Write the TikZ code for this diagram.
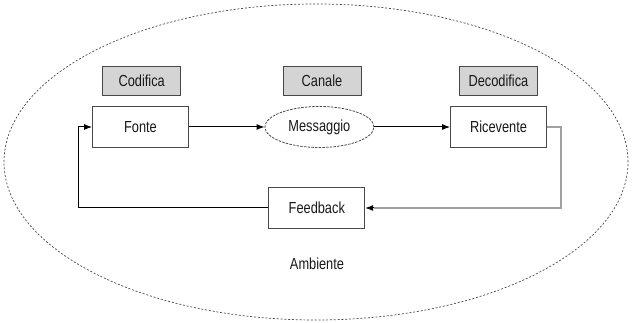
\documentclass[tikz,border=0pt]{standalone}
\usepackage{fontspec}
\setmainfont[FakeStretch=0.8]{Liberation Sans}
\usetikzlibrary{arrows.meta,shapes.geometric}
\definecolor{lblfill}{HTML}{D4D4D4}
\definecolor{edge}{HTML}{484848}
\definecolor{lightline}{HTML}{A0A0A0}
\tikzset{
  lbl/.style={draw=edge, fill=lblfill, line width=0.9pt, minimum width=78pt, minimum height=29.5pt, inner sep=0pt},
  mainbox/.style={draw=edge, fill=white, line width=0.8pt, minimum width=96pt, minimum height=41pt, inner sep=0pt},
  msgell/.style={ellipse, draw=edge, dash pattern=on 2.5pt off 1.2pt, line width=0.8pt, minimum width=109pt, minimum height=41pt, inner sep=0pt},
  envell/.style={ellipse, draw=edge, dash pattern=on 2pt off 1.8pt, line width=0.7pt, minimum width=624pt, minimum height=316pt, inner sep=0pt},
  conn/.style={line width=1pt, -{Latex[length=8pt,width=6pt]}},
}
\begin{document}
\begin{tikzpicture}[x=1pt,y=-1pt, font=\fontsize{16}{19}\selectfont, text=black!90]
\useasboundingbox (0,0) rectangle (632,323);
\node[envell] (env) at (316,162) {};
\node[lbl] (cod) at (141.7,80.8) {Codifica};
\node[lbl] (can) at (322,80.8) {Canale};
\node[lbl] (dec) at (498.4,80.8) {Decodifica};
\node[mainbox] (fonte) at (140.5,127) {Fonte};
\node[msgell] (msg) at (319.4,127) {Messaggio};
\node[mainbox] (ric) at (498.5,127) {Ricevente};
\node[mainbox] (fb) at (316.8,208) {Feedback};
\node (amb) at (317,264) {Ambiente};
\coordinate (rc) at (561,127);
\coordinate (rb) at (561,208);
\coordinate (lb) at (78,208);
\coordinate (lt) at (78,127);
\draw[conn] (fonte) -- (msg);
\draw[conn] (msg) -- (ric);
\draw[draw=lightline, line width=1.1pt] (ric.east) -- (rc) -- (rb) -- ([xshift=9pt]fb.east);
\draw[conn] ([xshift=9pt]fb.east) -- (fb.east);
\draw[conn] (fb.west) -- (lb) -- (lt) -- (fonte.west);
\end{tikzpicture}
\end{document}
